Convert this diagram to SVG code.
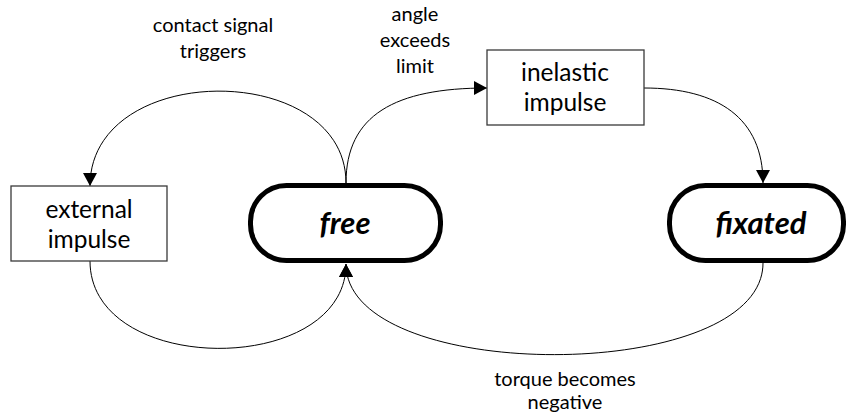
<svg xmlns="http://www.w3.org/2000/svg" width="847" height="415" viewBox="0 0 847 415">
  <style>
    text { font-family: Lato, "Open Sans", sans-serif; fill: #000; text-anchor: middle; }
    .lbl { font-size: 20px; }
    .box { fill: #fff; stroke: #3a3a3a; stroke-width: 1.3; }
    .boxtxt { font-size: 24.5px; }
    .state { fill: #fff; stroke: #000; stroke-width: 5; }
    .statetxt { font-size: 31px; font-weight: bold; font-style: italic; }
    .edge { fill: none; stroke: #000; stroke-width: 1; marker-end: url(#arrow); }
  </style>
  <defs>
    <marker id="arrow" markerUnits="userSpaceOnUse" markerWidth="14" markerHeight="14" refX="13" refY="7" orient="auto">
      <path d="M0,0 L13,7 L0,14 z" fill="#000"/>
    </marker>
  </defs>

  <g id="connectors">
    <!-- free -> external impulse -->
    <path class="edge" d="M346,183 C346,60 90,60 90,186"/>
    <!-- free -> inelastic impulse -->
    <path class="edge" d="M346,183 C346,115 395,88 487,88"/>
    <!-- inelastic impulse -> fixated -->
    <path class="edge" d="M644,88 C718,88 763,118 763,183"/>
    <!-- external impulse -> free -->
    <path class="edge" d="M90,261 C90,377 346,377 346,264"/>
    <!-- fixated -> free -->
    <path class="edge" d="M763,263 C763,385 346,385 346,264"/>
  </g>

  <g id="edge-labels">
    <text class="lbl" x="213" y="32">contact signal</text>
    <text class="lbl" x="213" y="58">triggers</text>
    <text class="lbl" x="415" y="21">angle</text>
    <text class="lbl" x="415" y="47">exceeds</text>
    <text class="lbl" x="415" y="73">limit</text>
    <text class="lbl" x="565" y="386">torque becomes</text>
    <text class="lbl" x="565" y="409">negative</text>
  </g>

  <g id="external-impulse">
    <rect class="box" x="11" y="186" width="156" height="75"/>
    <text class="boxtxt" x="89" y="218">external</text>
    <text class="boxtxt" x="89" y="248">impulse</text>
  </g>

  <g id="inelastic-impulse">
    <rect class="box" x="487" y="50" width="157" height="75"/>
    <text class="boxtxt" x="565" y="81">inelastic</text>
    <text class="boxtxt" x="565" y="111">impulse</text>
  </g>

  <g id="free">
    <rect class="state" x="250.5" y="185.5" width="190" height="75" rx="36" ry="36"/>
    <text class="statetxt" x="345" y="234">free</text>
  </g>

  <g id="fixated">
    <rect class="state" x="669.5" y="185.5" width="174" height="75" rx="36" ry="36"/>
    <text class="statetxt" x="761" y="234">fixated</text>
  </g>
</svg>
